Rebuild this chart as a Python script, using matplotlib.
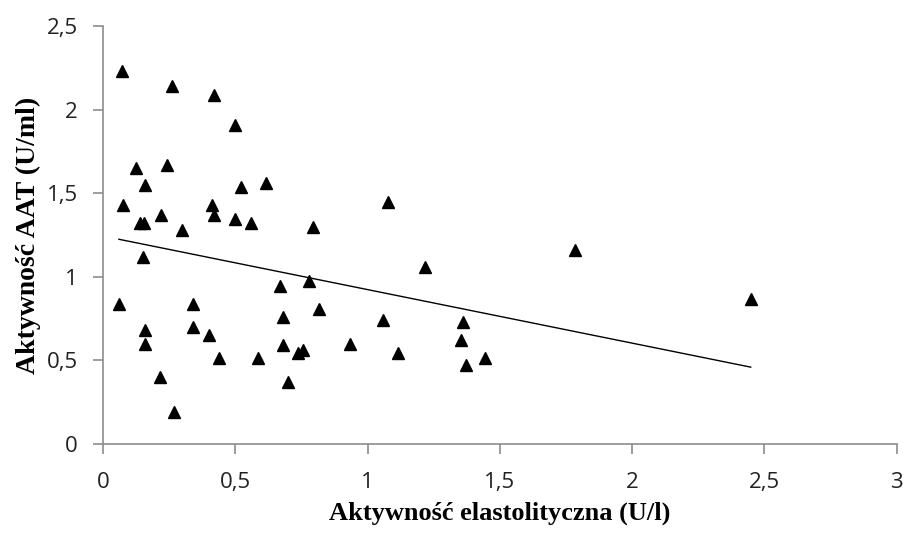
import numpy as np
import matplotlib
matplotlib.use("Agg")
import matplotlib.pyplot as plt
from matplotlib.ticker import FuncFormatter

# elastolytic activity (U/l) vs AAT activity (U/ml)
elast = [0.072, 0.26, 0.42, 0.50, 0.125, 0.24, 0.16, 0.52, 0.615, 0.075,
         0.41, 0.42, 0.22, 0.14, 0.155, 0.50, 0.56, 0.30, 0.795, 1.077,
         0.15, 1.216, 1.783, 2.448, 0.06, 0.34, 0.34, 0.16, 0.16, 0.40,
         0.44, 0.215, 0.268, 0.587, 0.67, 0.777, 0.68, 0.68, 0.815, 0.738,
         0.757, 0.70, 0.934, 1.057, 1.113, 1.362, 1.353, 1.371, 1.443]
aat = [2.23, 2.14, 2.09, 1.91, 1.65, 1.67, 1.55, 1.54, 1.56, 1.43,
       1.43, 1.37, 1.37, 1.32, 1.32, 1.345, 1.32, 1.28, 1.30, 1.45,
       1.12, 1.06, 1.16, 0.87, 0.84, 0.84, 0.70, 0.68, 0.60, 0.65,
       0.515, 0.40, 0.19, 0.515, 0.945, 0.975, 0.76, 0.59, 0.81, 0.545,
       0.56, 0.37, 0.60, 0.74, 0.545, 0.73, 0.62, 0.47, 0.515]

# linear trendline as drawn (endpoints)
trend_x = [0.06, 2.448]
trend_y = [1.225, 0.46]

fig = plt.figure(figsize=(9.04, 5.34), dpi=100)
ax = fig.add_axes([0.114, 0.1685, 0.878, 0.7825])

ax.plot(elast, aat, linestyle='none', marker='^', markersize=8, color='black')
ax.plot(trend_x, trend_y, color='black', linewidth=1)

ax.set_xlim(0, 3)
ax.set_ylim(0, 2.5)
ax.set_xticks(np.arange(0, 3.01, 0.5))
ax.set_yticks(np.arange(0, 2.51, 0.5))
comma = FuncFormatter(lambda v, p: ('%g' % v).replace('.', ','))
ax.xaxis.set_major_formatter(comma)
ax.yaxis.set_major_formatter(comma)

for s in ['top', 'right']:
    ax.spines[s].set_visible(False)
for s in ['left', 'bottom']:
    ax.spines[s].set_color('#8c8c8c')
    ax.spines[s].set_linewidth(1.2)
ax.tick_params(direction='out', length=7, color='#8c8c8c', width=1.2,
               labelsize=16, labelcolor='#222222')
ax.tick_params(axis='x', pad=13)
ax.tick_params(axis='y', pad=11)
for lab in ax.get_xticklabels() + ax.get_yticklabels():
    lab.set_family('Open Sans')

ax.set_xlabel('Aktywność elastolityczna (U/l)', family='Liberation Serif',
              fontweight='bold', fontsize=19, labelpad=6)
ax.set_ylabel('Aktywność AAT (U/ml)', family='Liberation Serif',
              fontweight='bold', fontsize=20, labelpad=4)

plt.savefig('out.png', dpi=100)
